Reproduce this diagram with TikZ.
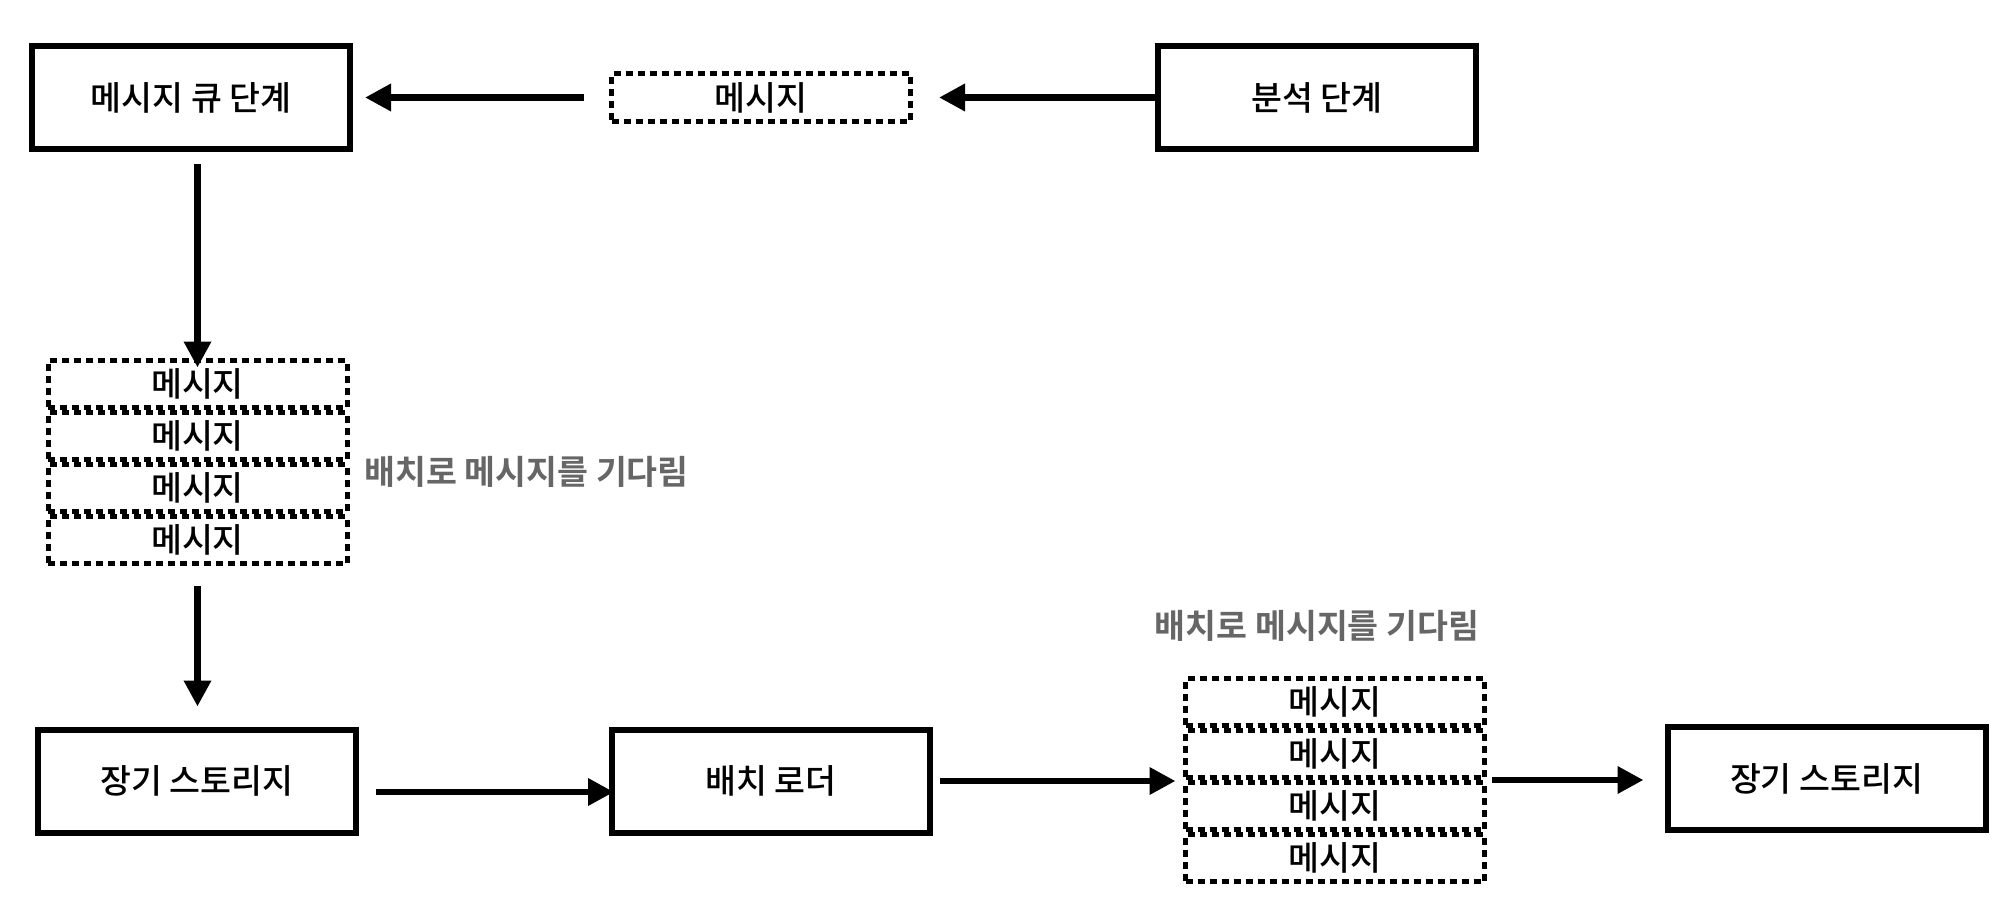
\documentclass[tikz,border=0pt]{standalone}
\usepackage{fontspec}
\IfFontExistsTF{Noto Sans CJK KR Medium}
  {\setmainfont{Noto Sans CJK KR Medium}[BoldFont={Noto Sans CJK KR Bold}]}
  {\setmainfont{Noto Sans CJK KR}[FakeBold=0.8,BoldFeatures={FakeBold=0}]}
\usetikzlibrary{arrows.meta}
\definecolor{notegray}{HTML}{666666}

\begin{document}
\begin{tikzpicture}[x=1pt,y=-1pt,
    every node/.style={font=\fontsize{16.8pt}{19pt}\selectfont},
    stage/.style={draw,line width=3pt,minimum width=159pt,minimum height=51.5pt,inner sep=0pt},
    msg/.style={draw,line width=2.5pt,dash pattern=on 3.5pt off 2.5pt,minimum width=149.5pt,minimum height=23.5pt,inner sep=0pt},
    note/.style={text=notegray,inner sep=0pt,font=\fontsize{16.8pt}{19pt}\selectfont\bfseries},
    arr/.style={line width=3.25pt,-{Triangle[length=13pt,width=13pt]}}]
        \useasboundingbox (0,0) rectangle (1008,460);

        \node[stage] (A) at (95.5,48.75) {메시지 큐 단계};
        \node[msg] (B) at (380.5,48.75) {메시지};
        \node[stage] (C) at (658.5,48.75) {분석 단계};

        \node[msg] (D1) at (98.75,192) {메시지};
        \node[msg] (D2) at (98.75,218) {메시지};
        \node[msg] (D3) at (98.75,244) {메시지};
        \node[msg] (D4) at (98.75,270) {메시지};
        \node[note,anchor=west] (L1) at (182,236) {배치로 메시지를 기다림};

        \node[stage] (E) at (98.5,390.5) {장기 스토리지};
        \node[stage] (F) at (385.5,390.5) {배치 로더};

        \node[note] (L2) at (658.5,313) {배치로 메시지를 기다림};
        \node[msg] (G1) at (667.5,351) {메시지};
        \node[msg] (G2) at (667.5,377) {메시지};
        \node[msg] (G3) at (667.5,403) {메시지};
        \node[msg] (G4) at (667.5,429) {메시지};

        \node[stage] (H) at (913.25,389.25) {장기 스토리지};

        \draw[arr,shorten >=13pt] (C.west) -- (B.east);
        \draw[arr,shorten <=12.75pt,shorten >=6pt] (B.west) -- (A.east);
        \draw[arr,shorten <=6pt,shorten >=-4.75pt] (D1 |- A.south) -- (D1.north);
        \draw[arr,shorten <=10pt,shorten >=10pt] (D4.south) -- (D4.south |- E.north);
        \draw[arr,shorten <=8.5pt,shorten >=-2.5pt] ([yshift=-5.5pt]E.east) -- ([yshift=-5.5pt]F.west);
        \draw[arr,shorten <=3.5pt,shorten >=3.75pt] (F.east) -- (F.east -| G2.west);
        \draw[arr,shorten <=2.25pt,shorten >=10.5pt] (G2.south east) -- (G2.south east -| H.west);
\end{tikzpicture}
\end{document}
